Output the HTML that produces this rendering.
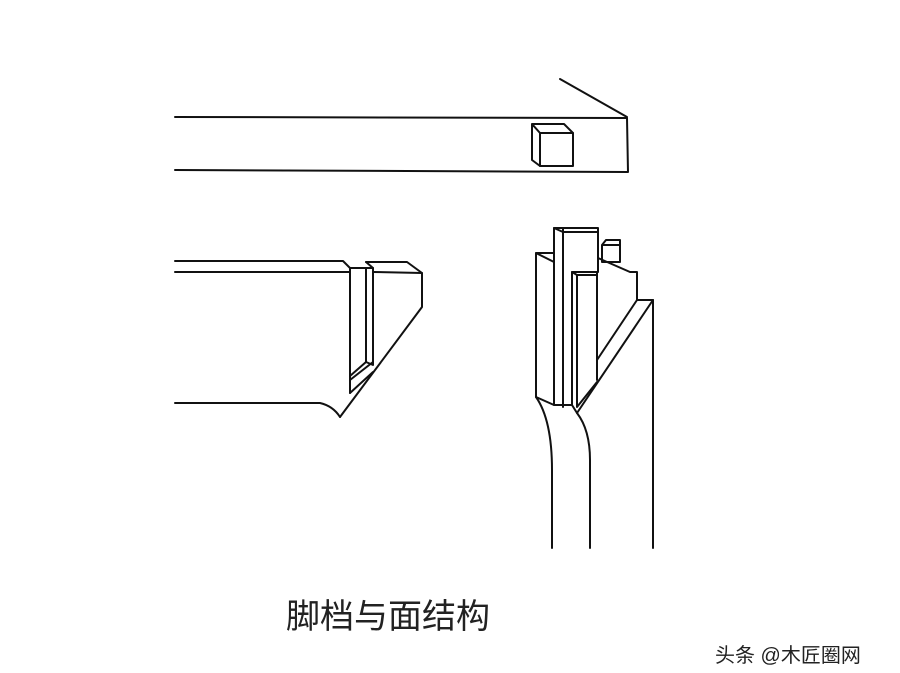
<!DOCTYPE html>
<html><head><meta charset="utf-8"><style>
html,body{margin:0;padding:0;background:#fff;}
svg{display:block;}
</style></head><body>
<svg width="900" height="673" viewBox="0 0 900 673" xmlns="http://www.w3.org/2000/svg">
<g fill="none" stroke="#111" stroke-width="2" stroke-linejoin="round" stroke-linecap="round">
<!-- top beam -->
<path d="M175 117 L627 118 L628 172 L175 170"/>
<path d="M560 79 L627 117"/>
<!-- cube -->
<path d="M540 133 L573 133 L573 166 L540 166 Z"/>
<path d="M532 124 L564 124 L573 133 M532 124 L540 133 M532 124 L532 160 L540 166"/>
<!-- left piece -->
<path d="M175 261 L343 261 L350 268"/>
<path d="M175 272 L350 272"/>
<path d="M350 268 L366 268 L366 362 M350 268 L350 393"/>
<path d="M366 262 L407 262 L422 273 L422 307 L340 417"/>
<path d="M366 262 L373 268 L373 365 L366 362"/>
<path d="M366 268 L373 268"/>
<path d="M373 272 L422 273"/>
<path d="M350 380 L373 362 M350 393 L373 372 M366 362 L350 376"/>
<path d="M175 403 L320 403 Q333 406 340 417"/>
<!-- right piece -->
<path d="M536 253 L554 253 M536 253 L536 397 M536 253 L554 262"/>
<path d="M554 228 L598 228 L598 258 M554 228 L554 405 M563 228 L563 407"/>
<path d="M554 228 L563 232 L598 232"/>
<path d="M598 258 L630 272 L637 272 L637 300 L653 300 L653 548"/>
<path d="M598 258 L598 272"/>
<path d="M602 245 L620 245 L620 262 L602 262 Z M602 245 L606 240 L620 240 L620 245"/>
<path d="M572 272 L597 272 L597 380 M572 272 L572 405 M577 275 L577 407 L597 382"/>
<path d="M572 272 L577 275 L597 275"/>
<path d="M653 300 L577 413 M637 300 L597 360"/>
<path d="M536 397 Q552 420 552 470 L552 548"/>
<path d="M572 405 L577 413 Q590 430 590 460 L590 548"/>
<path d="M536 397 L554 405 L572 405"/>
</g>
<text x="286" y="628" font-family="'Liberation Sans','Noto Sans CJK SC',sans-serif" font-size="34" fill="#222">脚档与面结构</text>
<text x="715" y="662" font-family="'Liberation Sans','Noto Sans CJK SC',sans-serif" font-size="20" fill="#222">头条 @木匠圈网</text>
</svg>
</body></html>
